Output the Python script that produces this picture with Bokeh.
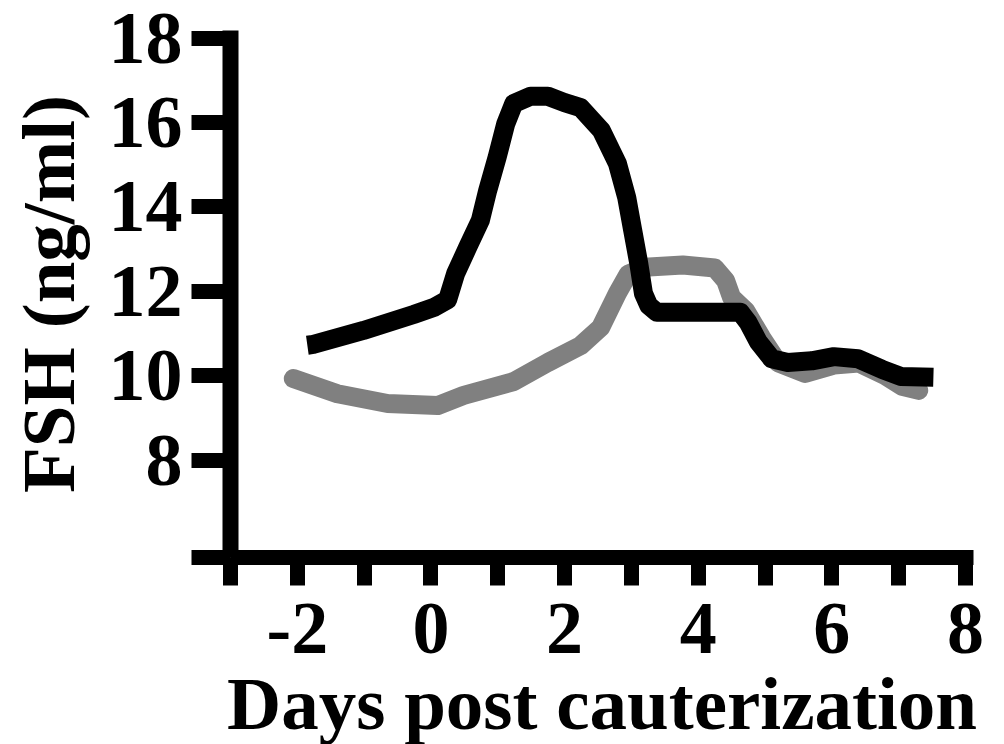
from bokeh.plotting import figure
from bokeh.models import Range1d, FixedTicker
from bokeh.embed import file_html
from bokeh.resources import INLINE

# ---- data ----
ovx_x = [-1.85, -1.76, -1.01, -0.26, 0.05, 0.25, 0.37, 0.55, 0.74, 0.85, 0.99, 1.12, 1.24, 1.49,
         1.75, 2.00, 2.24, 2.55, 2.79, 2.93, 3.02, 3.11, 3.18, 3.26, 3.38, 4.00, 4.63, 4.75, 4.90,
         5.10, 5.34, 5.70, 6.03, 6.39, 6.75, 7.03, 7.52]
ovx_y = [10.72, 10.74, 11.07, 11.45, 11.62, 11.80, 12.42, 13.04, 13.68, 14.39, 15.17, 15.97, 16.45, 16.62,
         16.62, 16.47, 16.35, 15.81, 15.03, 14.22, 13.44, 12.66, 11.95, 11.66, 11.50, 11.50, 11.50, 11.25, 10.80,
         10.40, 10.31, 10.35, 10.45, 10.40, 10.15, 9.98, 9.96]

ctl_x = [-2.06, -1.40, -0.65, 0.10, 0.49, 1.24, 1.75, 2.24, 2.54, 2.79, 2.95, 3.20, 3.77,
         4.25, 4.41, 4.50, 4.71, 4.95, 5.20, 5.60, 6.03, 6.40, 6.80, 7.05, 7.30]
ctl_y = [9.93, 9.57, 9.34, 9.29, 9.53, 9.86, 10.31, 10.71, 11.14, 11.95, 12.40, 12.57, 12.62,
         12.55, 12.25, 11.85, 11.54, 10.90, 10.30, 10.05, 10.25, 10.30, 10.00, 9.75, 9.65]

x_ticks = [-3, -2, -1, 0, 1, 2, 3, 4, 5, 6, 7, 8]
x_tick_labels = {-3: "", -2: "-2", -1: "", 0: "0", 1: "", 2: "2", 3: "", 4: "4", 5: "", 6: "6", 7: "", 8: "8"}
y_min = 5.69
y_ticks = [y_min, 8, 10, 12, 14, 16, 18]
y_tick_labels = {y_min: ""}

x_title = "Days post cauterization"
y_title = "FSH (ng/ml)"

FONT = "Liberation Serif"

p = figure(frame_width=743, frame_height=527, output_backend="svg", toolbar_location=None,
           x_range=Range1d(-3, 8.12), y_range=Range1d(y_min, 18.178),
           min_border_left=230, min_border_right=27, min_border_top=30, min_border_bottom=180)
p.background_fill_color = "white"
p.border_fill_color = "white"
p.outline_line_color = None
p.grid.visible = False

for ax in (p.xaxis[0], p.yaxis[0]):
    ax.axis_line_color = "black"
    ax.major_tick_line_color = "black"
    ax.major_tick_line_width = 15
    ax.major_tick_in = 0
    ax.minor_tick_line_color = None
    ax.major_label_text_font = FONT
    ax.major_label_text_font_style = "bold"
    ax.major_label_text_font_size = "74px"
    ax.major_label_text_color = "black"
    ax.axis_label_text_font = FONT
    ax.axis_label_text_font_style = "bold"
    ax.axis_label_text_font_size = "75px"
    ax.axis_label_text_color = "black"

xa = p.xaxis[0]
xa.axis_line_width = 15
xa.major_tick_out = 28
xa.ticker = FixedTicker(ticks=x_ticks)
xa.major_label_overrides = x_tick_labels
xa.major_label_standoff = 18
xa.axis_label = x_title
xa.axis_label_standoff = 6

ya = p.yaxis[0]
ya.axis_line_width = 16
ya.major_tick_out = 39
ya.ticker = FixedTicker(ticks=y_ticks)
ya.major_label_overrides = y_tick_labels
ya.major_label_standoff = 9
ya.major_label_orientation = "horizontal"
ya.axis_label = y_title
ya.axis_label_standoff = 16

# curves
p.line(ctl_x, ctl_y, line_color="#808080", line_width=19, line_join="round", line_cap="round")
p.line(ovx_x, ovx_y, line_color="black", line_width=19, line_join="round", line_cap="butt")

open("out.html", "w").write(file_html(p, INLINE))
